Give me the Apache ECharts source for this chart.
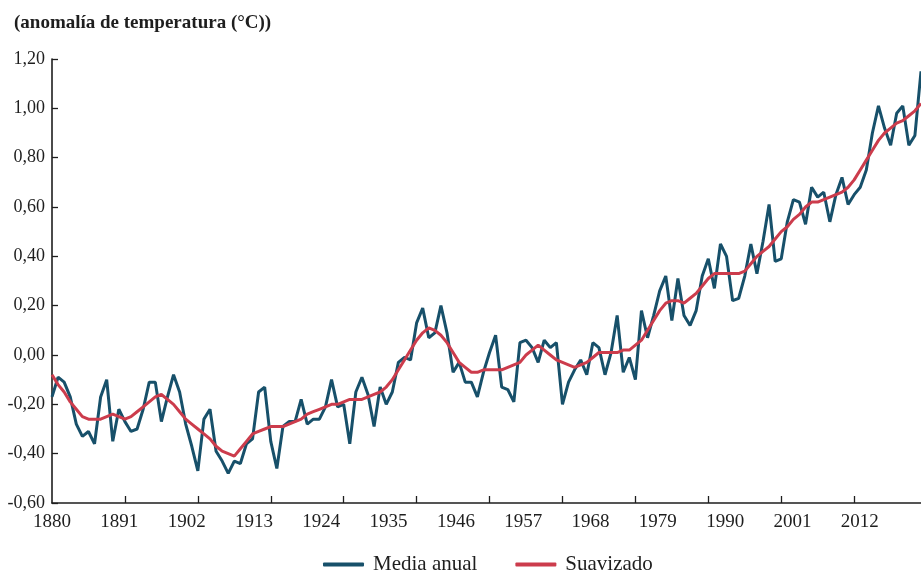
<!DOCTYPE html>
<html>
<head>
<meta charset="utf-8">
<title>Anomalía de temperatura</title>
<script src="https://cdn.jsdelivr.net/npm/echarts@6/dist/echarts.min.js"></script>
<style>
  html, body { margin: 0; padding: 0; background: #fff; }
  #chart { width: 921px; height: 571px; }
</style>
</head>
<body>
<div id="chart"></div>
<script>
// años 1880-2023
var years = [];
for (var y = 1880; y <= 2023; y++) years.push(y);

// media anual (°C)
var annual = [
  -0.17,-0.09,-0.11,-0.17,-0.28,-0.33,-0.31,-0.36,-0.17,-0.10,
  -0.35,-0.22,-0.27,-0.31,-0.30,-0.22,-0.11,-0.11,-0.27,-0.17,
  -0.08,-0.15,-0.28,-0.37,-0.47,-0.26,-0.22,-0.39,-0.43,-0.48,
  -0.43,-0.44,-0.36,-0.34,-0.15,-0.13,-0.35,-0.46,-0.29,-0.27,
  -0.27,-0.18,-0.28,-0.26,-0.26,-0.21,-0.10,-0.21,-0.20,-0.36,
  -0.15,-0.09,-0.16,-0.29,-0.13,-0.20,-0.15,-0.03,-0.01,-0.02,
   0.13, 0.19, 0.07, 0.09, 0.20, 0.09,-0.07,-0.03,-0.11,-0.11,
  -0.17,-0.07, 0.01, 0.08,-0.13,-0.14,-0.19, 0.05, 0.06, 0.03,
  -0.03, 0.06, 0.03, 0.05,-0.20,-0.11,-0.06,-0.02,-0.08, 0.05,
   0.03,-0.08, 0.01, 0.16,-0.07,-0.01,-0.10, 0.18, 0.07, 0.16,
   0.26, 0.32, 0.14, 0.31, 0.16, 0.12, 0.18, 0.32, 0.39, 0.27,
   0.45, 0.40, 0.22, 0.23, 0.32, 0.45, 0.33, 0.46, 0.61, 0.38,
   0.39, 0.54, 0.63, 0.62, 0.53, 0.68, 0.64, 0.66, 0.54, 0.65,
   0.72, 0.61, 0.65, 0.68, 0.75, 0.90, 1.01, 0.92, 0.85, 0.98,
   1.01, 0.85, 0.89, 1.15
];

// suavizado
var smooth = [
  -0.08,-0.12,-0.15,-0.19,-0.22,-0.25,-0.26,-0.26,-0.26,-0.25,
  -0.24,-0.25,-0.26,-0.25,-0.23,-0.21,-0.19,-0.17,-0.16,-0.18,
  -0.20,-0.23,-0.26,-0.28,-0.30,-0.32,-0.34,-0.37,-0.39,-0.40,
  -0.41,-0.38,-0.35,-0.32,-0.31,-0.30,-0.29,-0.29,-0.29,-0.28,
  -0.27,-0.26,-0.24,-0.23,-0.22,-0.21,-0.20,-0.20,-0.19,-0.18,
  -0.18,-0.18,-0.17,-0.16,-0.15,-0.13,-0.10,-0.06,-0.02, 0.02,
   0.06, 0.09, 0.11, 0.10, 0.08, 0.05, 0.01,-0.03,-0.05,-0.07,
  -0.07,-0.06,-0.06,-0.06,-0.06,-0.05,-0.04,-0.03, 0.00, 0.02,
   0.04, 0.02, 0.00,-0.02,-0.03,-0.04,-0.05,-0.04,-0.03,-0.01,
   0.01, 0.01, 0.01, 0.01, 0.02, 0.02, 0.04, 0.06, 0.10, 0.14,
   0.18, 0.21, 0.22, 0.22, 0.21, 0.23, 0.25, 0.28, 0.31, 0.33,
   0.33, 0.33, 0.33, 0.33, 0.34, 0.37, 0.40, 0.42, 0.44, 0.47,
   0.50, 0.52, 0.55, 0.57, 0.60, 0.62, 0.62, 0.63, 0.64, 0.65,
   0.66, 0.68, 0.71, 0.75, 0.79, 0.83, 0.87, 0.90, 0.92, 0.94,
   0.95, 0.97, 0.99, 1.02
];

var tickYears = [1892, 1904, 1916, 1928, 1940, 1952, 1964, 1976, 1988, 2000, 2012];
var labelYears = [1880, 1891, 1902, 1913, 1924, 1935, 1946, 1957, 1968, 1979, 1990, 2001, 2012];

var FONT = '"Liberation Serif", "DejaVu Serif", serif';
var INK = '#1e1e1e';

function pairs(vals) {
  return years.map(function (yr, i) { return [yr, vals[i]]; });
}

var chart = echarts.init(document.getElementById('chart'));
chart.setOption({
  animation: false,
  backgroundColor: '#fff',
  title: {
    text: '(anomalía de temperatura (°C))',
    left: 9, top: 9,
    textStyle: { fontFamily: FONT, fontSize: 19, fontWeight: 'bold', color: INK }
  },
  legend: {
    left: 323, top: 554, padding: 0,
    itemGap: 38,
    itemWidth: 41, itemHeight: 4,
    icon: 'roundRect',
    textStyle: { fontFamily: FONT, fontSize: 21, color: INK, padding: [0, 0, 0, 4] },
    data: ['Media anual', 'Suavizado']
  },
  grid: { left: 52, right: 0, top: 59, bottom: 68, containLabel: false },
  xAxis: [{
    type: 'value', min: 1880, max: 2023,
    axisLine: { show: true, onZero: false, lineStyle: { color: INK, width: 1.6 } },
    axisTick: { show: true, inside: true, length: 7, customValues: tickYears, lineStyle: { color: INK, width: 1.3 } },
    axisLabel: { show: false },
    splitLine: { show: false }
  }, {
    type: 'value', min: 1880, max: 2022, position: 'bottom',
    axisLine: { show: false, onZero: false },
    axisTick: { show: false },
    axisLabel: {
      customValues: labelYears, margin: 10,
      fontFamily: FONT, fontSize: 19, color: INK,
      formatter: function (v) { return String(v); }
    },
    splitLine: { show: false }
  }],
  yAxis: {
    type: 'value', min: -0.6, max: 1.2, interval: 0.2,
    axisLine: { show: true, onZero: false, lineStyle: { color: INK, width: 1.6 } },
    axisTick: { show: true, inside: true, length: 6, lineStyle: { color: INK, width: 1.3 } },
    axisLabel: {
      margin: 7, fontFamily: FONT, fontSize: 18, color: INK,
      formatter: function (v) { return v.toFixed(2).replace('.', ','); }
    },
    splitLine: { show: false }
  },
  series: [{
    name: 'Media anual', type: 'line', showSymbol: false, z: 2,
    itemStyle: { color: '#17506a' },
    lineStyle: { color: '#17506a', width: 3 },
    data: pairs(annual)
  }, {
    name: 'Suavizado', type: 'line', showSymbol: false, z: 3,
    itemStyle: { color: '#cc3c4c' },
    lineStyle: { color: '#cc3c4c', width: 3 },
    data: pairs(smooth)
  }]
});
</script>
</body>
</html>
